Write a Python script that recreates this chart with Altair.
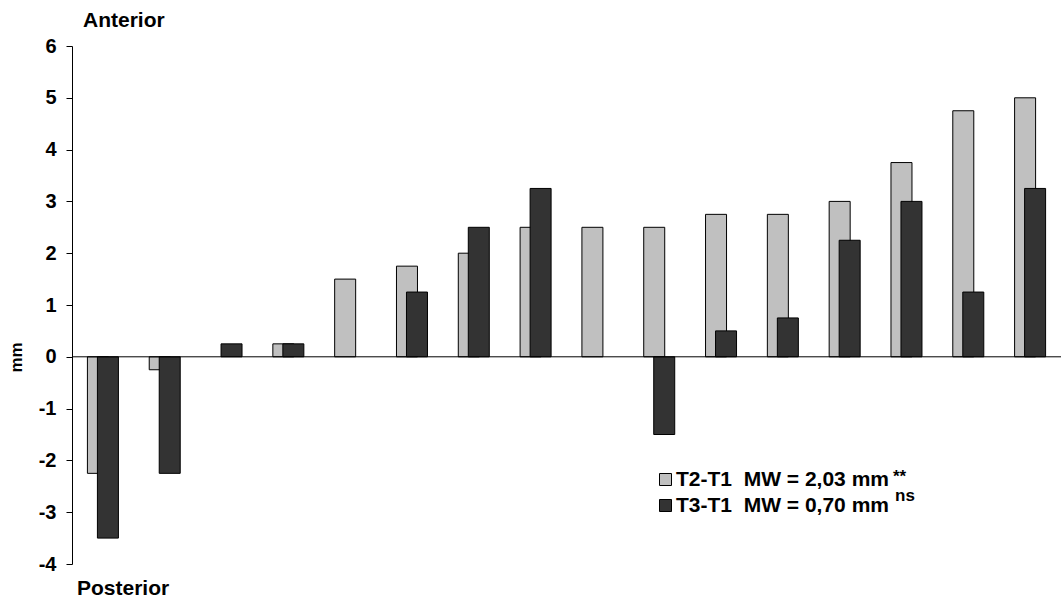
import altair as alt
import pandas as pd

# Per-patient change in position (mm), sorted by the T2-T1 change
patients = list(range(1, 17))
t2_t1 = [-2.25, -0.25, None, 0.25, 1.5, 1.75, 2.0, 2.5, 2.5, 2.5, 2.75, 2.75, 3.0, 3.75, 4.75, 5.0]
t3_t1 = [-3.5, -2.25, 0.25, 0.25, None, 1.25, 2.5, 3.25, None, -1.5, 0.5, 0.75, 2.25, 3.0, 1.25, 3.25]

series_names = ["T2-T1\u00a0 MW = 2,03 mm", "T3-T1\u00a0 MW = 0,70 mm"]
series_colors = ["#c0c0c0", "#333333"]
significance = ["**", "ns"]

y_ticks = list(range(-4, 7))

FONT = "Liberation Sans"

rows = []
for p, a, b in zip(patients, t2_t1, t3_t1):
    if a is not None:
        rows.append({"patient": p, "series": series_names[0], "value": a})
    if b is not None:
        rows.append({"patient": p, "series": series_names[1], "value": b})
df = pd.DataFrame(rows)

W, H = 989, 518

x_enc = alt.X("patient:O", axis=None,
              scale=alt.Scale(paddingInner=0, paddingOuter=0))
y_enc = alt.Y(
    "value:Q",
    scale=alt.Scale(domain=[-4, 6], nice=False, zero=False),
    axis=alt.Axis(
        values=y_ticks, grid=False, domainColor="black", tickColor="black",
        tickSize=6, labelFont=FONT, labelFontSize=20, labelFontWeight="bold",
        labelColor="black", labelPadding=10,
        labelExpr="'' + datum.value",
        title="mm", titleFont=FONT, titleFontSize=17, titleFontWeight="bold",
        titleColor="black", titleAngle=270, titleX=-56, titleY=311,
        titleAlign="center", titleBaseline="middle",
    ),
)
color_enc = alt.Color(
    "series:N",
    scale=alt.Scale(domain=series_names, range=series_colors),
    legend=alt.Legend(
        title=None, orient="none", legendX=583, legendY=423, padding=0,
        symbolType="square", symbolSize=144, symbolStrokeColor="black",
        symbolStrokeWidth=1, symbolOpacity=1,
        labelFont=FONT, labelFontSize=21, labelFontWeight="bold",
        labelColor="black", labelOffset=0, rowPadding=4, labelLimit=400,
    ),
)

base = alt.Chart(df)
light = base.transform_filter(alt.datum.series == series_names[0]).mark_bar(
    width=21, xOffset=-5, stroke="black", strokeWidth=1, opacity=1
).encode(x=x_enc, y=y_enc, color=color_enc)
dark = base.transform_filter(alt.datum.series == series_names[1]).mark_bar(
    width=21, xOffset=5, stroke="black", strokeWidth=1, opacity=1
).encode(x=x_enc, y=y_enc, color=color_enc)

zero_line = alt.Chart(pd.DataFrame({"v": [0]})).mark_rule(
    color="black", strokeWidth=1
).encode(y="v:Q")

direction = alt.Chart(pd.DataFrame({"t": ["Anterior", "Posterior"],
                                    "px": [11, 5], "py": [-19, 549]})).mark_text(
    font=FONT, fontSize=21, fontWeight="bold", color="black",
    align="left", baseline="alphabetic"
).encode(x=alt.X("px:Q", scale=None), y=alt.Y("py:Q", scale=None), text="t:N")

stars = alt.Chart(pd.DataFrame({"t": significance,
                                "px": [821, 823], "py": [436, 455]})).mark_text(
    font=FONT, fontSize=17, fontWeight="bold", color="black",
    align="left", baseline="alphabetic"
).encode(x=alt.X("px:Q", scale=None), y=alt.Y("py:Q", scale=None), text="t:N")

chart = alt.layer(light, dark, zero_line, direction, stars).resolve_scale(
    y="shared"
).properties(
    width=W, height=H,
    autosize=alt.AutoSizeParams(type="none"),
    padding={"left": 72, "top": 46, "right": 0, "bottom": 35},
    background="white",
).configure_view(stroke=None)

chart.save("out.html", embed_options={"renderer": "svg", "actions": False})
